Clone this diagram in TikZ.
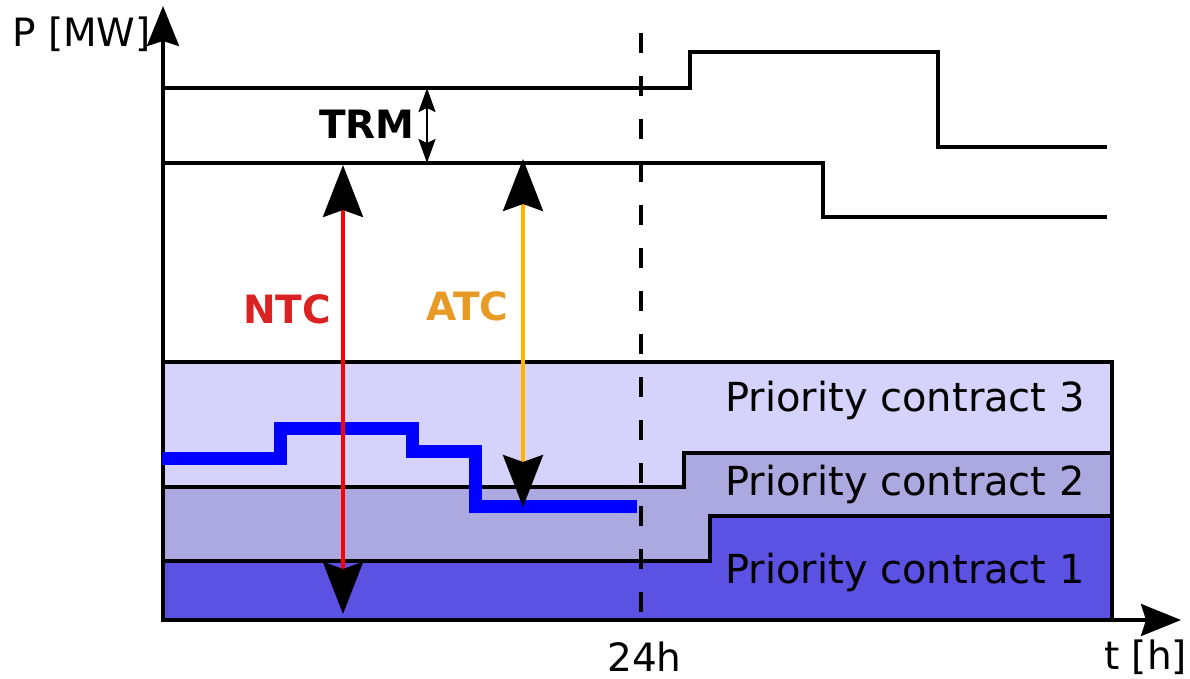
\documentclass[tikz,border=0pt]{standalone}
\usepackage{fontspec}
\setmainfont{DejaVu Sans}
\usetikzlibrary{arrows.meta}
\definecolor{pcone}{RGB}{91,82,228}
\definecolor{pctwo}{RGB}{172,168,224}
\definecolor{pcthree}{RGB}{213,210,252}
\definecolor{ntcline}{RGB}{255,0,0}
\definecolor{atcline}{RGB}{255,180,0}
\definecolor{ntctext}{RGB}{218,34,34}
\definecolor{atctext}{RGB}{232,154,36}
\definecolor{flowblue}{RGB}{0,0,255}
\begin{document}
\begin{tikzpicture}[x=1pt,y=-1pt,
  font=\fontsize{39}{44}\selectfont,
  lbl/.style={inner sep=0pt},
  pclbl/.style={inner sep=0pt, font=\fontsize{40}{44}\selectfont},
  boldlbl/.style={inner sep=0pt, font=\fontsize{39}{44}\selectfont\bfseries},
  axisline/.style={line width=3.4pt, -{Stealth[length=40pt,width=32pt,inset=5pt]}},
  outline/.style={line width=3.4pt, line join=miter},
  band/.style={draw=black, line width=3.4pt, line join=miter},
  bigarrow/.style={line width=4pt,
     {Stealth[length=52pt,width=40pt,inset=7pt,color=black,fill=black]}-{Stealth[length=52pt,width=40pt,inset=7pt,color=black,fill=black]}},
  trmarrow/.style={line width=2.4pt,
     {Stealth[length=24pt,width=17pt,inset=4pt]}-{Stealth[length=24pt,width=17pt,inset=4pt]}},
  flow/.style={line width=13pt, flowblue, line join=miter},
  dayline/.style={line width=3.2pt, dash pattern=on 20pt off 23pt}
]
\useasboundingbox (0,0) rectangle (1190,678);

% priority contract bands
\path[band, fill=pcthree] (163,362) rectangle (1112,620);
\path[band, fill=pctwo] (163,620) -- (163,487) -- (684,487) -- (684,453) -- (1112,453) -- (1112,620) -- cycle;
\path[band, fill=pcone] (163,620) -- (163,561) -- (710,561) -- (710,516) -- (1112,516) -- (1112,620) -- cycle;

% axes
\coordinate (origin) at (163,620);
\coordinate (ytip) at (163,6);
\coordinate (xtip) at (1181,620);
\draw[axisline] (origin) -- (ytip);
\draw[axisline] (origin) -- (xtip);

% capacity step lines
\draw[outline] (163,88) -- (690,88) -- (690,52) -- (938,52) -- (938,147) -- (1107,147);
\draw[outline] (163,163) -- (823,163) -- (823,217) -- (1107,217);

% 24h dashed line
\coordinate (daytop) at (641,33);
\coordinate (daybot) at (641,620);
\draw[dayline] (daytop) -- (daybot);

% flow
\draw[flow] (162,458) -- (280,458) -- (280,428) -- (412,428) -- (412,451) -- (475,451) -- (475,506) -- (637,506);

% NTC / ATC / TRM arrows
\coordinate (ntctop) at (343,165);
\coordinate (ntcbot) at (343,614);
\draw[bigarrow, ntcline] (ntcbot) -- (ntctop);
\coordinate (atctop) at (523,159);
\coordinate (atcbot) at (523,507);
\draw[bigarrow, atcline] (atcbot) -- (atctop);
\coordinate (trmtop) at (427,88);
\coordinate (trmbot) at (427,163);
\draw[trmarrow] (trmbot) -- (trmtop);

% labels
\node[lbl, anchor=base west] (plabel) at (12,46) {P [MW]};
\node[boldlbl, anchor=base west] (trm) at (319,138) {TRM};
\node[boldlbl, anchor=base west, text=ntctext] (ntc) at (243,323) {NTC};
\node[boldlbl, anchor=base west, text=atctext] (atc) at (426,320) {ATC};
\node[lbl, anchor=base west] (day) at (607,671) {24h};
\node[lbl, anchor=base west] (tlabel) at (1104,669) {t [h]};
\node[pclbl, anchor=base east] (pc3) at (1085,411) {Priority contract 3};
\node[pclbl, anchor=base east] (pc2) at (1085,495) {Priority contract 2};
\node[pclbl, anchor=base east] (pc1) at (1085,583) {Priority contract 1};
\end{tikzpicture}
\end{document}
